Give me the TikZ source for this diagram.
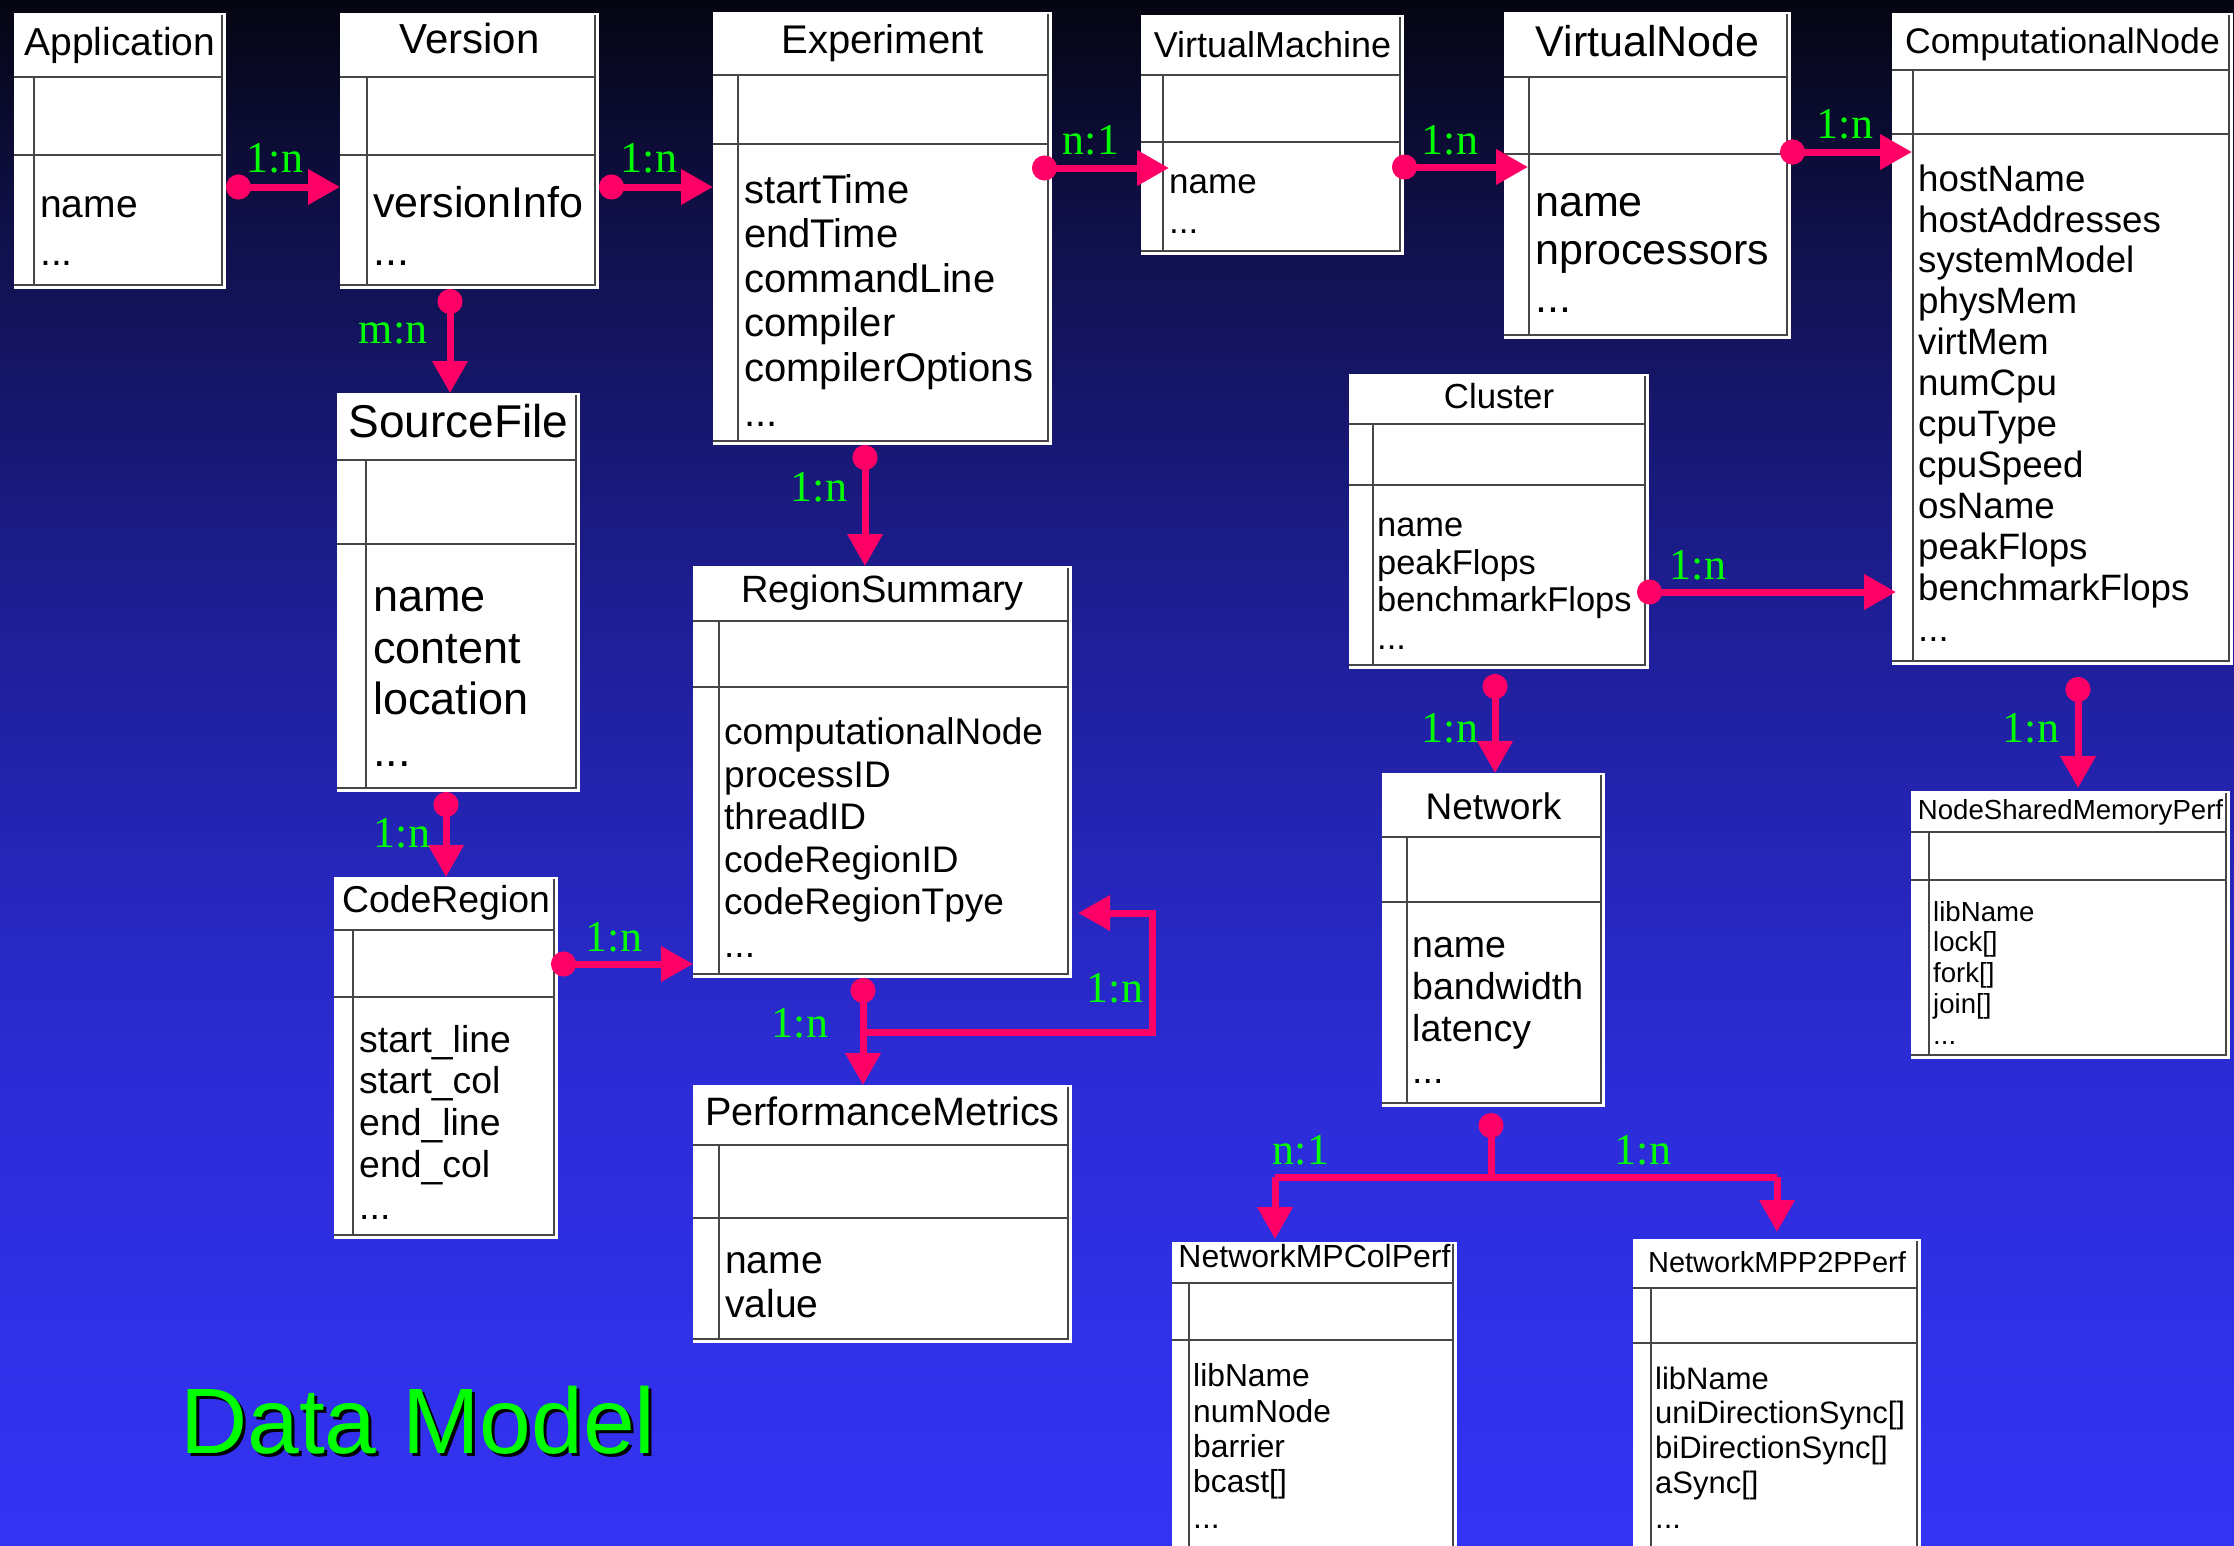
\documentclass[tikz,border=0pt]{standalone}
\usepackage{fontspec}
\setmainfont{Liberation Sans}
\newfontfamily\cardfont{Liberation Serif}
\usetikzlibrary{arrows.meta,fit}

\definecolor{bgtop}{RGB}{5,5,18}
\definecolor{bgmida}{RGB}{16,16,75}
\definecolor{bgmidb}{RGB}{30,30,150}
\definecolor{bgmidc}{RGB}{44,44,215}
\definecolor{bgbot}{RGB}{51,51,245}
\definecolor{relpink}{RGB}{255,0,102}
\definecolor{cardgreen}{RGB}{0,255,0}
\definecolor{boxgray}{RGB}{70,70,70}

% the path is fitted to 25bp..75bp of the shading
\pgfdeclareverticalshading{slidebg}{100bp}{color(0bp)=(bgbot); color(25bp)=(bgbot); color(40bp)=(bgmidc); color(55bp)=(bgmidb); color(67.5bp)=(bgmida); color(75bp)=(bgtop); color(100bp)=(bgtop)}

\newcommand{\fsz}[2]{\fontsize{#1}{#2}\selectfont}

% class box: name, x1, y1, x2, y2, first and second separator, left column
\newcommand{\classbox}[8]{%
  \node[classbox, fit={(#2,#3) (#4,#5)}] (#1) {};
  \draw[boxline] (#2,#6) -- (#4-4,#6) (#2,#7) -- (#4-4,#7) (#8,#6) -- (#8,#5-4);
  \draw[boxline] (#2,#5-4) -- (#4-4,#5-4) -- (#4-4,#3+2);
}

\tikzset{
  classbox/.style={fill=white, inner sep=0, outer sep=0},
  boxline/.style={draw=boxgray, line width=2.5},
  ctitle/.style={anchor=base, inner sep=0},
  % attribute lists sit on the baseline of their last line
  cattr/.style={anchor=base west, inner sep=0, align=left},
  card/.style={text=cardgreen, inner sep=0, font={\cardfont\fsz{44}{44}}},
  rel/.style={draw=relpink, line width=7, {Circle[length=25]}-{Triangle[length=32,width=34]}},
  reldot/.style={draw=relpink, line width=7, {Circle[length=25]}-},
  relline/.style={draw=relpink, line width=7},
  relhead/.style={draw=relpink, line width=7, -{Triangle[length=32,width=34]}},
}

\begin{document}
\begin{tikzpicture}[x=1pt, y=-1pt]
  \useasboundingbox (0,0) rectangle (2234,1545);
  \clip (0,0) rectangle (2234,1545);
  \shade[shading=slidebg] (0,0) rectangle (2234,1545);

  % top row
  \classbox{app}{14}{13}{226}{289}{77}{155}{34}
  \node[ctitle, font=\fsz{39}{39}] (app-title) at (app.north |- 0,55) {Application};
  \node[cattr, font=\fsz{39}{48}] (app-attrs) at (40,265) {name\\...};

  \classbox{version}{340}{13}{599}{289}{77}{155}{367}
  \node[ctitle, font=\fsz{42}{42}] (version-title) at (version.north |- 0,53) {Version};
  \node[cattr, font=\fsz{43}{48}] (version-attrs) at (373,265) {versionInfo\\...};

  \classbox{exp}{713}{12}{1052}{445}{75}{144}{738}
  \node[ctitle, font=\fsz{40}{40}] (exp-title) at (exp.north |- 0,53) {Experiment};
  \node[cattr, font=\fsz{40}{44.6}] (exp-attrs) at (744,426)
    {startTime\\endTime\\commandLine\\compiler\\compilerOptions\\...};

  \classbox{vm}{1141}{15}{1404}{255}{75}{142}{1163}
  \node[ctitle, font=\fsz{36}{36}] (vm-title) at (vm.north |- 0,57) {VirtualMachine};
  \node[cattr, font=\fsz{35}{40}] (vm-attrs) at (1169,233) {name\\...};

  \classbox{vn}{1504}{12}{1791}{339}{77}{154}{1529}
  \node[ctitle, font=\fsz{43}{43}] (vn-title) at (vn.north |- 0,56) {VirtualNode};
  \node[cattr, font=\fsz{43}{48}] (vn-attrs) at (1535,312) {name\\nprocessors\\...};

  \classbox{cn}{1892}{13}{2233}{665}{70}{134}{1913}
  \node[ctitle, font=\fsz{35.6}{35.6}] (cn-title) at (cn.north |- 0,53) {ComputationalNode};
  \node[cattr, font=\fsz{36.7}{40.9}] (cn-attrs) at (1918,641)
    {hostName\\hostAddresses\\systemModel\\physMem\\virtMem\\numCpu\\cpuType\\cpuSpeed\\osName\\peakFlops\\benchmarkFlops\\...};

  % middle
  \classbox{sf}{337}{393}{580}{792}{460}{544}{366}
  \node[ctitle, font=\fsz{46}{46}] (sf-title) at (sf.north |- 0,437) {SourceFile};
  \node[cattr, font=\fsz{45}{51.5}] (sf-attrs) at (373,766) {name\\content\\location\\...};

  \classbox{rs}{693}{566}{1072}{978}{621}{687}{719}
  \node[ctitle, font=\fsz{38}{38}] (rs-title) at (rs.north |- 0,602) {RegionSummary};
  \node[cattr, font=\fsz{37}{42.5}] (rs-attrs) at (724,957)
    {computationalNode\\processID\\threadID\\codeRegionID\\codeRegionTpye\\...};

  \classbox{cluster}{1349}{374}{1649}{669}{424}{485}{1373}
  \node[ctitle, font=\fsz{34.8}{34.8}] (cluster-title) at (cluster.north |- 0,408) {Cluster};
  \node[cattr, font=\fsz{34.4}{37.5}] (cluster-attrs) at (1377,649)
    {name\\peakFlops\\benchmarkFlops\\...};

  \classbox{cr}{334}{877}{558}{1239}{930}{997}{353}
  \node[ctitle, font=\fsz{37.4}{37.4}] (cr-title) at (cr.north |- 0,912) {CodeRegion};
  \node[cattr, font=\fsz{37.4}{41.7}] (cr-attrs) at (359,1219)
    {start\_line\\start\_col\\end\_line\\end\_col\\...};

  \classbox{pm}{693}{1085}{1072}{1343}{1145}{1218}{719}
  \node[ctitle, font=\fsz{39.6}{39.6}] (pm-title) at (pm.north |- 0,1125) {PerformanceMetrics};
  \node[cattr, font=\fsz{39}{44}] (pm-attrs) at (725,1317) {name\\value};

  \classbox{net}{1382}{773}{1605}{1107}{837}{902}{1407}
  \node[ctitle, font=\fsz{37}{37}] (net-title) at (net.north |- 0,819) {Network};
  \node[cattr, font=\fsz{37.5}{42}] (net-attrs) at (1412,1083) {name\\bandwidth\\latency\\...};

  \classbox{nsmp}{1911}{791}{2230}{1059}{832}{880}{1929}
  \node[ctitle, font=\fsz{27.6}{27.6}] (nsmp-title) at (nsmp.north |- 0,819) {NodeSharedMemoryPerf};
  \node[cattr, font=\fsz{27.6}{30.7}] (nsmp-attrs) at (1933,1044) {libName\\lock[]\\fork[]\\join[]\\...};

  % bottom
  \classbox{colperf}{1172}{1242}{1457}{1560}{1283}{1340}{1189}
  \node[ctitle, font=\fsz{32}{32}] (colperf-title) at (colperf.north |- 0,1267) {NetworkMPColPerf};
  \node[cattr, font=\fsz{31.8}{35.3}] (colperf-attrs) at (1193,1528)
    {libName\\numNode\\barrier\\bcast[]\\...};

  \classbox{p2pperf}{1633}{1239}{1921}{1560}{1288}{1343}{1651}
  \node[ctitle, font=\fsz{29}{29}] (p2pperf-title) at (p2pperf.north |- 0,1272) {NetworkMPP2PPerf};
  \node[cattr, font=\fsz{31}{34.7}] (p2pperf-attrs) at (1655,1528)
    {libName\\uniDirectionSync[]\\biDirectionSync[]\\aSync[]\\...};

  % relations
  \draw[rel] (app.east |- 0,187) -- (version.west |- 0,187);
  \node[card] (c-app) at (275,158) {1:n};
  \draw[rel] (version.east |- 0,187) -- (exp.west |- 0,187);
  \node[card] (c-version) at (649,158) {1:n};
  \draw[rel] (version.south -| 450,0) -- (sf.north -| 450,0);
  \node[card] (c-sf) at (393,333) {m:n};
  \draw[rel, shorten <=-20, shorten >=-28] (exp.east |- 0,168) -- (vm.west |- 0,168);
  \node[card] (c-exp) at (1091,140) {n:1};
  \draw[rel, shorten <=-12, shorten >=-24] (vm.east |- 0,167) -- (vn.west |- 0,167);
  \node[card] (c-vm) at (1450,140) {1:n};
  \draw[rel, shorten <=-11, shorten >=-20] (vn.east |- 0,152) -- (cn.west |- 0,152);
  \node[card] (c-vn) at (1845,124) {1:n};

  \draw[rel] (exp.south -| 865,0) -- (rs.north -| 865,0);
  \node[card] (c-rs) at (819,487) {1:n};
  \draw[rel] (sf.south -| 446,0) -- (cr.north -| 446,0);
  \node[card] (c-cr) at (402,833) {1:n};
  \draw[rel, shorten <=-7] (cr.east |- 0,964) -- (rs.west |- 0,964);
  \node[card] (c-crrs) at (614,937) {1:n};

  \coordinate (rsj) at (863,1032);
  \coordinate (rsl) at (1152,913);
  \draw[rel] (rs.south -| rsj) -- (pm.north -| rsj);
  \draw[relhead, shorten >=6] (rsj) -| (rsl) -- (rs.east |- rsl);
  \node[card] (c-pm) at (800,1023) {1:n};
  \node[card] (c-self) at (1115,988) {1:n};

  \draw[rel, shorten <=-12, shorten >=-4] (cluster.east |- 0,592) -- (cn.west |- 0,592);
  \node[card] (c-cluster) at (1698,565) {1:n};
  \draw[rel, shorten <=5] (cluster.south -| 1495,0) -- (net.north -| 1495,0);
  \node[card] (c-net) at (1450,728) {1:n};
  \draw[rel, shorten <=12, shorten >=3] (cn.south -| 2078,0) -- (nsmp.north -| 2078,0);
  \node[card] (c-nsmp) at (2031,728) {1:n};

  \coordinate (nj) at (1491,1177);
  \coordinate (njl) at (1275,1177);
  \coordinate (njr) at (1777,1177);
  \draw[reldot, shorten <=6] (net.south -| nj) -- (nj);
  \draw[relline] (njl) -- (njr);
  \draw[relhead, shorten >=3] (njl) -- (colperf.north -| njl);
  \draw[relhead, shorten >=7] (njr) -- (p2pperf.north -| njr);
  \node[card] (c-colperf) at (1301,1150) {n:1};
  \node[card] (c-p2pperf) at (1643,1150) {1:n};

  % caption
  \node[anchor=base west, inner sep=0, font=\fsz{93}{93}, text=black] (dm-shadow) at (183,1456) {Data Model};
  \node[anchor=base west, inner sep=0, font=\fsz{93}{93}, text=cardgreen] (dm) at (180,1453) {Data Model};
\end{tikzpicture}
\end{document}
